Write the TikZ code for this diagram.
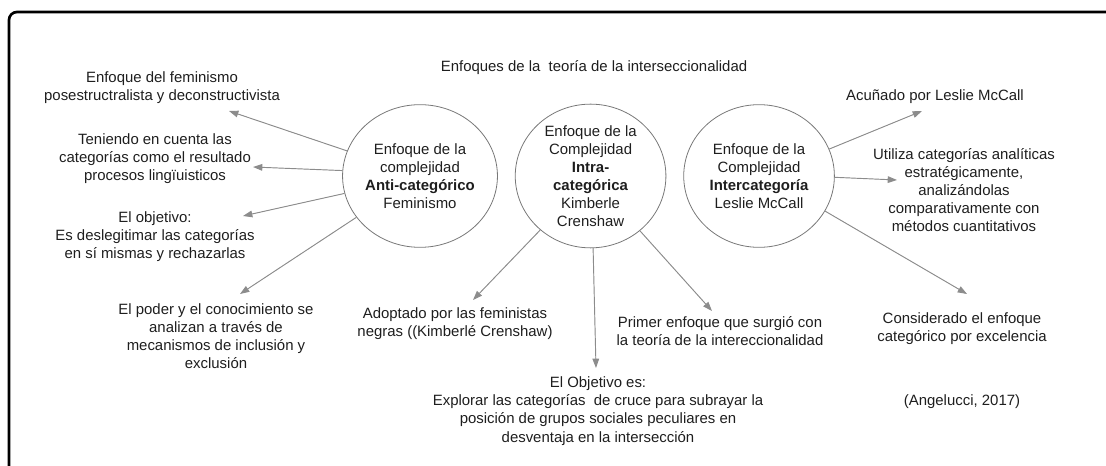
\documentclass[tikz,border=0pt]{standalone}
\usepackage{fontspec}
\setmainfont{Liberation Sans}
\usetikzlibrary{shapes.geometric, arrows.meta, positioning}
\definecolor{circlegray}{RGB}{120, 120, 120}
\definecolor{arrowgray}{RGB}{140, 140, 140}
\definecolor{textdark}{RGB}{30, 30, 30}
\newcommand{\diagfont}{\fontsize{11.2}{13.6}\selectfont}

\begin{document}
\begin{tikzpicture}[x=0.75pt, y=-0.75pt,
        approach/.style={draw=circlegray, ellipse, line width=0.6pt, minimum width=113pt, minimum height=107pt,
                    inner sep=0pt, align=center, font=\diagfont, text=textdark},
        note/.style={align=center, font=\diagfont, text=textdark, inner sep=1pt},
        arrow/.style={-{Triangle[length=7pt, width=5pt]}, draw=arrowgray, fill=arrowgray, line width=0.7pt}
      ]
        \useasboundingbox (0,0) rectangle (1106,466);
        \draw[line width=2pt, rounded corners=6pt] (9,466) |- (1106,12);
        \node[note] (title) at (594,68) {Enfoques de la~~teoría de la interseccionalidad};
        \node[approach] (anti) at (420,176) {Enfoque de la\\complejidad\\\textbf{Anti-categórico}\\Feminismo};
        \node[approach, right=12.75pt of anti] (intra) {Enfoque de la\\Complejidad\\\textbf{Intra-}\\\textbf{categórica}\\Kimberle\\Crenshaw};
        \node[approach, right=12.75pt of intra] (inter) {Enfoque de la\\Complejidad\\\textbf{Intercategoría}\\Leslie McCall};
        \node[note] (feminismo) at (162,88) {Enfoque del feminismo\\posestructralista y deconstructivista};
        \node[note] (procesos) at (155,159) {Teniendo en cuenta las\\categorías como el resultado\\procesos lingïuisticos};
        \node[note] (objetivo) at (155,237) {El objetivo:\\Es deslegitimar las categorías\\en sí mismas y rechazarlas};
        \node[note] (poder) at (216,336) {El poder y el conocimiento se\\analizan a través de\\mecanismos de inclusión y\\exclusión};
        \node[note] (adoptado) at (455,324) {Adoptado por las feministas\\negras ((Kimberlé Crenshaw)};
        \node[note] (explorar) at (598,411) {El Objetivo es:\\Explorar las categorías~~de cruce para subrayar la\\posición de grupos sociales peculiares en\\desventaja en la intersección};
        \node[note] (primer) at (720,331) {Primer enfoque que surgió con\\la teoría de la intereccionalidad};
        \node[note] (acunado) at (935,97) {Acuñado por Leslie McCall};
        \node[note] (utiliza) at (964,190) {Utiliza categorías analíticas\\estratégicamente,\\analizándolas\\comparativamente con\\métodos cuantitativos};
        \node[note] (considerado) at (962,329) {Considerado el enfoque\\categórico por excelencia};
        \node[note] (fuente) at (962,402) {(Angelucci, 2017)};
        \coordinate (tipfem) at (229,111);
        \coordinate (tipproc) at (253,167);
        \coordinate (tipobj) at (243,216);
        \coordinate (tippod) at (240,294);
        \coordinate (tipadop) at (473,300);
        \coordinate (tipexpl) at (596,368);
        \coordinate (tipprim) at (712,311);
        \coordinate (tipacu) at (922,111);
        \coordinate (tiputil) at (897,180);
        \coordinate (tipcons) at (967,294);
        \draw[arrow] (anti.161) -- (tipfem);
        \draw[arrow] (anti.176) -- (tipproc);
        \draw[arrow] (anti.193) -- (tipobj);
        \draw[arrow] (anti.213) -- (tippod);
        \draw[arrow] (intra.227) -- (tipadop);
        \draw[arrow] (intra.272) -- (tipexpl);
        \draw[arrow] (intra.312) -- (tipprim);
        \draw[arrow] (inter.21) -- (tipacu);
        \draw[arrow] (inter.359) -- (tiputil);
        \draw[arrow] (inter.332) -- (tipcons);
      \end{tikzpicture}
\end{document}
